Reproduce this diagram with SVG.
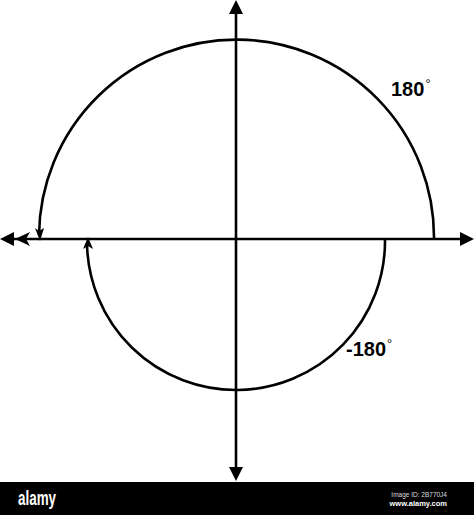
<svg xmlns="http://www.w3.org/2000/svg" width="474" height="515" viewBox="0 0 474 515">
<style>
.ln{stroke:#000;stroke-width:2.6;fill:none}
.hd{fill:#000}
.lbl{font-family:"Liberation Sans",Arial,sans-serif;font-weight:bold;font-size:20px;fill:#000}
.deg{font-size:13px;font-weight:normal}
</style>
<rect width="474" height="515" fill="#fff"/>
<g id="axes">
<line class="ln" x1="14" y1="239" x2="462" y2="239"/>
<line class="ln" x1="236" y1="12" x2="236" y2="470"/>
<polygon class="hd" points="474,239 460,232 460,246"/>
<polygon class="hd" points="0,239 14,232 14,246"/>
<polygon class="hd" points="15,239 30,232 26,239 30,246"/>
<polygon class="hd" points="236,0 229,14 243,14"/>
<polygon class="hd" points="236,481 229,467 243,467"/>
</g>
<g id="connectors">
<path class="ln" d="M434,239 A197,197 0 0 0 39,235"/>
<polygon class="hd" points="40,241 35,228 39,231 44,228"/>
<path class="ln" d="M385,239 A149,149 0 0 1 87,243"/>
<polygon class="hd" points="88,237 83,249 88,246 93,249"/>
</g>
<g id="label-pos"><text class="lbl" x="391" y="96">180<tspan class="deg" dx="1" dy="-8">°</tspan></text></g>
<g id="label-neg"><text class="lbl" x="346" y="356">-180<tspan class="deg" dx="1" dy="-8">°</tspan></text></g>
<g id="watermark">
<rect x="0" y="482" width="474" height="33" fill="#000"/>
<text x="18" y="505" font-family="Liberation Sans Narrow,Liberation Sans,sans-serif" font-weight="bold" font-size="20" fill="#fff" textLength="38" lengthAdjust="spacingAndGlyphs">alamy</text>
<text x="447" y="497" text-anchor="end" font-family="Liberation Sans,sans-serif" font-size="6.5" fill="#ddd">Image ID: 2B770J4</text>
<text x="447" y="506" text-anchor="end" font-family="Liberation Sans,sans-serif" font-weight="bold" font-size="7.5" fill="#fff">www.alamy.com</text>
</g>
</svg>
